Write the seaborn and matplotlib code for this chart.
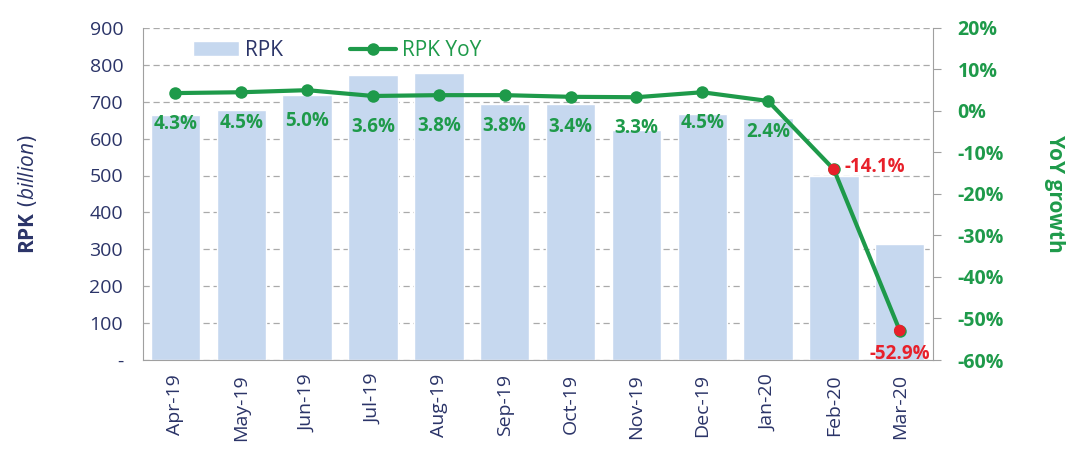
import matplotlib
matplotlib.use("Agg")
import matplotlib.pyplot as plt
import seaborn as sns
import numpy as np
import pandas as pd

# data
months = ["Apr-19", "May-19", "Jun-19", "Jul-19", "Aug-19", "Sep-19",
          "Oct-19", "Nov-19", "Dec-19", "Jan-20", "Feb-20", "Mar-20"]
rpk = [663, 677, 717, 772, 777, 693, 693, 622, 668, 655, 500, 315]
yoy = [4.3, 4.5, 5.0, 3.6, 3.8, 3.8, 3.4, 3.3, 4.5, 2.4, -14.1, -52.9]

navy = "#2b3468"
green = "#1e9a4a"
red = "#e8202a"
bar_col = "#c6d8ef"

sns.set_style("white")
plt.rcParams["font.family"] = ["Open Sans", "DejaVu Sans"]
plt.rcParams["mathtext.fontset"] = "custom"
plt.rcParams["mathtext.it"] = "Open Sans:italic"
plt.rcParams["mathtext.bf"] = "Open Sans:bold"

df = pd.DataFrame({"month": months, "rpk": rpk, "yoy": yoy})
x = np.arange(len(months))

fig = plt.figure(figsize=(10.72, 4.5), dpi=100)
ax = fig.add_axes([0.133, 0.2, 0.737, 0.738])

sns.barplot(data=df, x="month", y="rpk", color=bar_col, width=0.75,
            saturation=1, ax=ax, label="RPK", zorder=2)
if ax.get_legend() is not None:
    ax.get_legend().remove()
ax.set_ylim(0, 900)
ax.set_xlim(-0.5, len(months) - 0.5)
ax.set_yticks(range(0, 901, 100))
ax.set_yticklabels(["-"] + [str(v) for v in range(100, 901, 100)])
ax.tick_params(axis="y", colors=navy, labelsize=14, length=0, pad=14)
ax.tick_params(axis="x", colors=navy, labelsize=14, rotation=90, length=0, pad=10)
for lab in ax.get_xticklabels():
    lab.set_color(navy)
ax.yaxis.grid(True, linestyle=(0, (5, 3)), color="#aaaaaa", linewidth=0.9, zorder=0)
ax.set_axisbelow(True)
ax.set_xlabel("")
ax.set_ylabel(r"$\bf{RPK}$ $\it{(billion)}$", color=navy, fontsize=15, labelpad=36)
for s in ["top", "right"]:
    ax.spines[s].set_visible(False)
for s in ["left", "bottom"]:
    ax.spines[s].set_color("#a0a0a0")
# category separator ticks
ax.set_xticks(x - 0.5, minor=True)
ax.tick_params(axis="x", which="minor", length=7, color="#a0a0a0")

ax2 = ax.twinx()
sns.lineplot(x=x, y=yoy, ax=ax2, color=green, linewidth=3, marker="o",
             markersize=9, markeredgewidth=0, label="RPK YoY", legend=False, zorder=4)
sns.scatterplot(x=x[-2:], y=yoy[-2:], ax=ax2, color=red, s=70,
                edgecolor="none", zorder=5, legend=False)
ax2.set_ylim(-60, 20)
ax2.set_yticks(range(-60, 21, 10))
ax2.set_yticklabels([f"{v}%" for v in range(-60, 21, 10)])
ax2.tick_params(axis="y", colors=green, labelsize=14, length=6, pad=12)
for lab in ax2.get_yticklabels():
    lab.set_fontweight("bold")
    lab.set_color(green)
ax2.tick_params(axis="y", color="#a0a0a0")
ax2.set_ylabel("YoY growth", color=green, fontsize=15, fontweight="bold",
               rotation=270, labelpad=44)
for s in ["top", "left", "bottom"]:
    ax2.spines[s].set_visible(False)
ax2.spines["right"].set_color("#a0a0a0")

for i, v in enumerate(yoy):
    if i < len(yoy) - 2:
        ax2.annotate(f"{v:.1f}%", (i, v), xytext=(0, -22), textcoords="offset points",
                     ha="center", va="center", color=green, fontsize=13.5, fontweight="bold")
    elif i == len(yoy) - 2:
        ax2.annotate(f"{v:.1f}%", (i, v), xytext=(8, 2), textcoords="offset points",
                     ha="left", va="center", color=red, fontsize=13.5, fontweight="bold")
    else:
        ax2.annotate(f"{v:.1f}%", (i, v), xytext=(0, -17), textcoords="offset points",
                     ha="center", va="center", color=red, fontsize=13.5, fontweight="bold")

h1, l1 = ax.get_legend_handles_labels()
h2, l2 = ax2.get_legend_handles_labels()
leg = ax2.legend(h1 + h2, l1 + l2, loc="upper left", bbox_to_anchor=(0.04, 1.02),
                 ncol=2, frameon=False, fontsize=15, handlelength=2.2,
                 columnspacing=3.2, handletextpad=0.3)
leg.get_texts()[0].set_color(navy)
leg.get_texts()[1].set_color(green)

fig.savefig("out.png", dpi=100)
